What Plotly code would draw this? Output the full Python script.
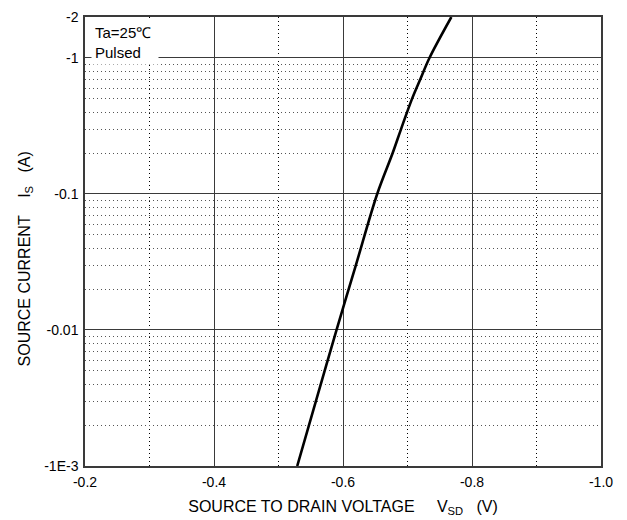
import plotly.graph_objects as go

# Data (V_SD in volts, I_S in amperes)
vsd = [-0.529, -0.558, -0.590, -0.620, -0.653, -0.677, -0.690, -0.707, -0.720, -0.734, -0.768]
i_s = [-0.001, -0.003, -0.01, -0.03, -0.1, -0.2, -0.3, -0.5, -0.7, -1.0, -2.0]

x_tickvals = [-0.2, -0.4, -0.6, -0.8, -1.0]
x_ticktext = ["-0.2", "-0.4", "-0.6", "-0.8", "-1.0"]
x_minor = [-0.3, -0.5, -0.7, -0.9]

y_tickvals = [-2, -1, -0.1, -0.01, -0.001]
y_ticktext = ["-2", "-1", "-0.1", "-0.01", "-1E-3"]
y_minor = [-m * d for d in (0.001, 0.01, 0.1) for m in range(2, 10)]

FONT = "Liberation Sans, Arial, sans-serif"
GRID = "#3a3a3a"

fig = go.Figure()
fig.add_trace(go.Scatter(
    x=vsd, y=[abs(v) for v in i_s], mode="lines",
    line=dict(color="black", width=2.6, shape="spline", smoothing=1.0),
    showlegend=False, hoverinfo="skip"))

fig.update_xaxes(
    range=[-0.2, -1.0],
    tickvals=x_tickvals, ticktext=x_ticktext,
    showgrid=True, gridcolor=GRID, gridwidth=1,
    showline=True, mirror=True, linecolor=GRID, linewidth=1.5,
    ticks="outside", ticklen=2, tickcolor="rgba(0,0,0,0)", zeroline=False,
    tickfont=dict(family=FONT, size=14, color="black"),
    minor=dict(tickvals=x_minor, showgrid=True, gridcolor="black",
               griddash="1px,3px", gridwidth=1, ticklen=0),
    title=dict(text="SOURCE TO DRAIN VOLTAGE     V<sub>SD</sub>   (V)",
               font=dict(family=FONT, size=16, color="black"), standoff=12),
    automargin=False,
)

fig.update_yaxes(
    type="log", range=[-3, 0.30103],
    tickvals=[abs(v) for v in y_tickvals], ticktext=y_ticktext,
    showgrid=True, gridcolor=GRID, gridwidth=1,
    showline=True, mirror=True, linecolor=GRID, linewidth=1.5,
    ticks="outside", ticklen=2, tickcolor="rgba(0,0,0,0)", zeroline=False,
    tickfont=dict(family=FONT, size=14, color="black"),
    minor=dict(tickvals=[abs(v) for v in y_minor], showgrid=True, gridcolor="#555555",
               griddash="1px,3px", gridwidth=1, ticklen=0),
    automargin=False,
)

# y-axis title (placed as rotated text, lower than centre as in the reference)
fig.add_annotation(
    xref="paper", yref="paper", x=0, y=0.46, xanchor="center", yanchor="middle",
    xshift=-60, textangle=-90,
    text="SOURCE CURRENT    I<sub>S</sub>   (A)", showarrow=False,
    font=dict(family=FONT, size=16, color="black"),
)

fig.add_annotation(
    xref="paper", yref="paper", x=0, y=1, xanchor="left", yanchor="top",
    xshift=6, yshift=-3,
    text="Ta=25℃&nbsp;<br>Pulsed", showarrow=False, align="left",
    font=dict(family=FONT, size=15, color="black"),
    bgcolor="white", borderpad=3,
)

# The page body adds an 8px margin, so the figure is sized to fit the window.
fig.update_layout(
    width=619, height=512,
    margin=dict(l=77, r=26, t=9, b=54),
    paper_bgcolor="white", plot_bgcolor="white",
)

fig.write_html("out.html")
